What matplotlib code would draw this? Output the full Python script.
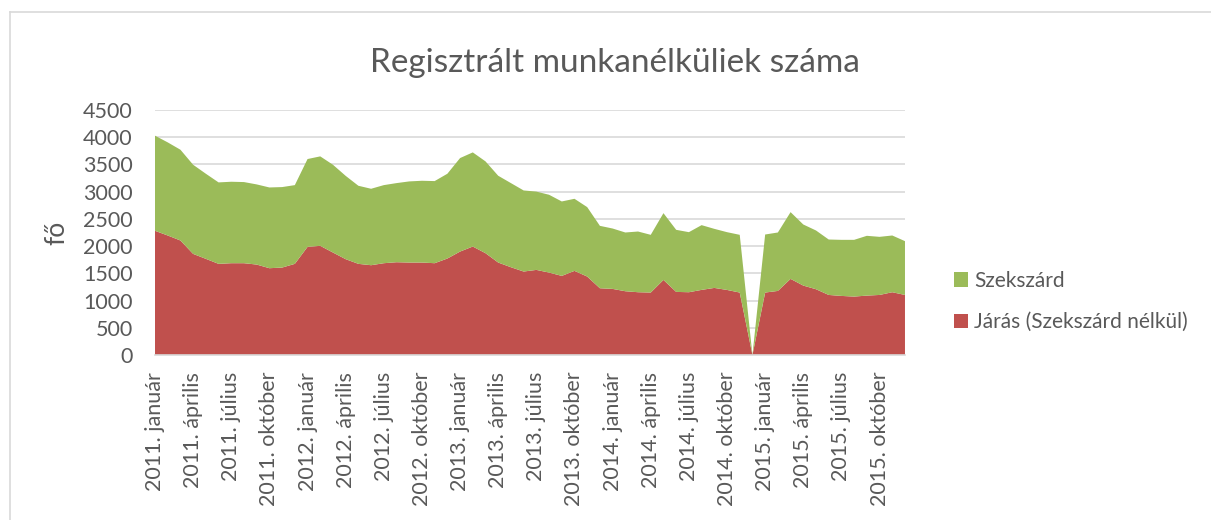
import numpy as np
import matplotlib.pyplot as plt
from matplotlib.patches import Patch
from matplotlib.lines import Line2D

plt.rcParams['font.family'] = ['Lato', 'DejaVu Sans']

# month labels 2011 jan - 2015 dec, every 3rd labelled
years = ['2011', '2012', '2013', '2014', '2015']
label_months = ['január', 'április', 'július', 'október']

# Járás (Szekszárd nélkül)
jaras = [2281, 2195, 2103, 1857, 1766, 1674, 1686, 1686, 1661, 1594,
         1606, 1674, 1986, 2005, 1882, 1760, 1674, 1649, 1686, 1704,
         1698, 1698, 1686, 1772, 1900, 1992, 1870, 1698, 1612, 1533,
         1563, 1514, 1453, 1545, 1441, 1226, 1214, 1171, 1153, 1147,
         1379, 1159, 1153, 1196, 1232, 1195, 1147, 0, 1147, 1177,
         1398, 1275, 1208, 1103, 1085, 1073, 1091, 1103, 1153, 1103]

# total (Járás + Szekszárd)
total = [4028, 3905, 3770, 3494, 3329, 3170, 3182, 3176, 3133, 3077,
         3084, 3120, 3599, 3648, 3494, 3290, 3108, 3053, 3120, 3157,
         3188, 3200, 3194, 3329, 3617, 3721, 3556, 3292, 3157, 3022,
         3001, 2943, 2820, 2869, 2716, 2372, 2323, 2250, 2268, 2207,
         2605, 2299, 2256, 2385, 2317, 2256, 2207, 0, 2213, 2250,
         2624, 2397, 2287, 2121, 2115, 2115, 2189, 2170, 2195, 2091]

szekszard = [t - j for t, j in zip(total, jaras)]

green = '#9BBB59'
red = '#C0504D'
txt = '#595959'

x = np.arange(len(jaras))
tick_pos = np.arange(0, len(jaras), 3)
tick_lab = [f'{y}. {m}' for y in years for m in label_months]

fig = plt.figure(figsize=(12.11, 5.2), dpi=100)
ax = fig.add_axes([0.128, 0.3173, 0.6193, 0.4712])

ax.stackplot(x, jaras, szekszard, colors=[red, green], linewidth=0)

ax.set_xlim(0, len(jaras) - 1)
ax.set_ylim(0, 4500)
ax.set_yticks(np.arange(0, 4501, 500))
ax.yaxis.grid(True, color='#D9D9D9', linewidth=1.2)
ax.set_axisbelow(True)
for s in ['top', 'right', 'left']:
    ax.spines[s].set_visible(False)
ax.spines['bottom'].set_color('#D9D9D9')
ax.spines['bottom'].set_linewidth(1.2)
ax.spines['bottom'].set_zorder(5)

ax.set_xticks(tick_pos)
ax.set_xticklabels(tick_lab, rotation=90, ha='center', va='top')
ax.tick_params(axis='x', length=0, pad=12, labelsize=15.5, labelcolor=txt)
ax.tick_params(axis='y', length=0, pad=16, labelsize=15.5, labelcolor=txt)

ax.set_ylabel('fő', fontsize=19, color=txt, labelpad=10)

fig.text(0.508, 0.879, 'Regisztrált munkanélküliek száma', ha='center',
         va='center', fontsize=24, color=txt)

handles = [Patch(facecolor=green, edgecolor='none'),
           Patch(facecolor=red, edgecolor='none')]
leg = fig.legend(handles, ['Szekszárd', 'Járás (Szekszárd nélkül)'],
                 loc='center left', bbox_to_anchor=(0.772, 0.42),
                 frameon=False, fontsize=15, labelcolor=txt,
                 handlelength=0.7, handleheight=0.7, handletextpad=0.3,
                 labelspacing=1.02)

# chart border (top and left visible)
fig.add_artist(Line2D([0.0083, 1.0], [0.977, 0.977], color='#D9D9D9', lw=1.2))
fig.add_artist(Line2D([0.0083, 0.0083], [0.0, 0.977], color='#D9D9D9', lw=1.2))

fig.savefig('out.png', dpi=100)
